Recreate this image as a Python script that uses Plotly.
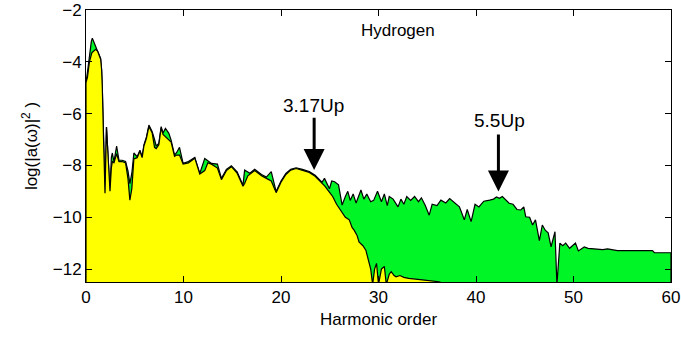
import plotly.graph_objects as go

# Green series (full spectrum, upper envelope)
green_x = [0.0, 0.0, 0.15, 0.35, 0.55, 0.65, 0.8, 1.0, 1.2, 1.5, 1.6, 1.67, 1.8, 1.95, 2.1, 2.25, 2.46, 2.6, 2.7,
           2.87, 3.14, 3.38, 3.7, 4.06, 4.3, 4.5, 4.7, 4.91, 5.25, 5.53, 5.76, 5.94, 6.2, 6.45, 6.79, 7.03, 7.2,
           7.47, 7.71, 7.9, 8.15, 8.5, 8.73, 9.08, 9.3, 9.59, 9.96, 10.5, 11.16, 11.67, 12.18, 12.87, 13.48,
           13.89, 14.4, 14.91, 15.5, 16.1, 16.27, 16.8, 17.3, 18.0, 18.5, 19.0, 19.5, 20.0, 20.5, 21.0, 21.55,
           22.2, 22.9, 23.5, 23.95, 24.2, 24.46, 24.97, 25.2, 25.5, 25.9, 26.27, 26.6, 26.85, 27.1, 27.4, 27.7,
           28.2, 28.5, 28.8, 29.2, 29.5, 29.9, 30.3, 30.6, 30.9, 31.1, 31.5, 32.0, 32.3, 32.6, 32.9, 33.3, 33.7,
           34.1, 34.4, 34.8, 35.2, 35.5, 36.0, 36.4, 36.9, 37.3, 37.8, 38.3, 38.8, 39.1, 39.5, 39.9, 40.3, 40.8,
           41.4, 41.8, 42.1, 42.4, 42.7, 43.0, 43.4, 43.8, 44.2, 44.6, 44.9, 45.1, 45.5, 45.8, 46.1, 46.5, 46.8,
           47.1, 47.4, 47.7, 48.1, 48.3, 48.6, 48.9, 49.2, 49.6, 50.2, 50.5, 51.1, 51.5, 52.3, 53.0, 53.5, 54.5,
           58.1, 58.3, 60.0, 60.0]
green_y = [-12.6, -4.8, -4.4, -3.7, -3.2, -3.09, -3.25, -3.42, -3.6, -3.87, -4.3, -4.96, -7.0, -9.07, -6.52, -7.4,
           -9.0, -7.7, -7.52, -7.85, -7.25, -7.79, -7.8, -7.85, -8.2, -8.7, -8.3, -7.52, -7.66, -7.41, -7.66, -7.21,
           -6.9, -6.44, -6.70, -7.0, -7.25, -7.15, -6.5, -6.75, -6.57, -6.76, -7.02, -7.6, -7.5, -7.3, -7.92,
           -7.85, -7.69, -8.31, -7.73, -7.92, -7.95, -8.5, -8.15, -8.01, -8.25, -8.76, -8.18, -8.3, -8.15, -8.35,
           -8.45, -8.24, -9.01, -8.6, -8.31, -8.15, -8.09, -8.15, -8.24, -8.38, -8.56, -8.65, -8.5, -8.9, -8.6,
           -8.63, -8.75, -9.53, -9.2, -9.0, -9.35, -9.1, -9.45, -8.95, -9.3, -9.1, -9.4, -9.35, -9.0, -9.4, -9.1,
           -9.55, -9.2, -9.3, -9.6, -9.3, -9.5, -9.2, -9.35, -9.2, -9.4, -9.25, -9.55, -9.92, -9.5, -9.55, -9.34,
           -9.45, -9.28, -9.45, -9.6, -10.1, -9.7, -10.17, -9.5, -9.6, -9.38, -9.34, -9.3, -9.22, -9.27, -9.2,
           -9.32, -9.46, -9.5, -9.7, -9.72, -9.6, -9.98, -10.0, -10.3, -10.1, -10.9, -10.3, -10.5, -10.6, -11.14,
           -10.56, -12.6, -11.0, -11.1, -11.0, -11.2, -11.0, -11.3, -11.15, -11.2, -11.24, -11.25, -11.22, -11.29,
           -11.29, -11.37, -11.37, -12.6]

# Yellow series (short trajectories only)
yellow_x = [0.0, 0.0, 0.15, 0.35, 0.6, 0.99, 1.2, 1.5, 1.6, 1.67, 1.8, 1.95, 2.1, 2.25, 2.46, 2.6, 2.7, 2.87, 3.14,
            3.38, 3.7, 4.06, 4.3, 4.5, 4.7, 4.91, 5.25, 5.53, 5.76, 5.94, 6.2, 6.45, 6.79, 7.03, 7.2, 7.47, 7.71,
            7.9, 8.15, 8.5, 8.73, 9.08, 9.3, 9.59, 9.96, 10.5, 11.16, 11.67, 12.18, 12.5, 12.87, 13.48, 13.89,
            14.4, 14.91, 15.5, 16.1, 16.27, 16.6, 17.3, 18.0, 18.5, 19.0, 19.5, 20.0, 20.5, 21.0, 21.55, 22.2,
            22.9, 23.5, 24.0, 24.5, 25.0, 25.3, 25.7, 26.17, 26.6, 27.0, 27.3, 27.5, 27.8, 28.0, 28.4, 28.7, 29.0,
            29.2, 29.4, 29.6, 29.8, 30.0, 30.3, 30.6, 30.8, 31.1, 31.3, 31.6, 31.8, 32.2, 32.6, 33.1, 34.5, 36.2,
            37.0, 37.0]
yellow_y = [-12.6, -4.8, -4.6, -4.0, -3.65, -3.52, -3.6, -3.9, -4.3, -4.96, -7.0, -9.07, -6.52, -7.4, -9.0, -8.1,
            -7.85, -7.9, -7.55, -7.85, -7.85, -7.9, -8.5, -9.34, -8.9, -7.75, -7.7, -7.45, -7.7, -7.25, -6.95,
            -6.5, -6.75, -7.3, -7.35, -7.2, -6.55, -6.8, -6.9, -7.0, -7.1, -7.65, -7.6, -7.6, -7.95, -7.9, -7.72,
            -8.33, -8.2, -7.9, -7.95, -8.1, -8.55, -8.2, -8.05, -8.3, -8.8, -8.7, -8.4, -8.2, -8.4, -8.5, -8.6,
            -9.05, -8.65, -8.35, -8.18, -8.12, -8.18, -8.27, -8.42, -8.6, -8.8, -9.05, -9.2, -9.5, -9.79, -10.0,
            -10.1, -10.4, -10.5, -10.7, -10.95, -11.1, -11.27, -11.65, -12.0, -12.6, -12.0, -11.78, -12.6, -12.0,
            -11.9, -12.6, -12.2, -12.1, -12.25, -12.3, -12.25, -12.32, -12.36, -12.42, -12.49, -12.6, -12.6]

x_ticks = [0, 10, 20, 30, 40, 50, 60]
y_ticks = [-12, -10, -8, -6, -4, -2]

FONT = "Liberation Sans, Arial, Helvetica, sans-serif"

fig = go.Figure()
fig.add_trace(go.Scatter(x=green_x, y=green_y, mode="lines", fill="toself", fillcolor="#00f526",
                         line=dict(color="black", width=1.2), hoverinfo="skip", showlegend=False))
fig.add_trace(go.Scatter(x=yellow_x, y=yellow_y, mode="lines", fill="toself", fillcolor="#ffff00",
                         line=dict(color="black", width=1.2), hoverinfo="skip", showlegend=False))

ann_font = dict(family=FONT, size=19, color="black")
fig.add_annotation(x=32.0, y=-2.8, text="Hydrogen", showarrow=False, font=dict(family=FONT, size=17, color="black"))
fig.add_annotation(x=23.3, y=-5.67, text="3.17Up", showarrow=False, font=ann_font)
fig.add_annotation(x=42.4, y=-6.25, text="5.5Up", showarrow=False, font=ann_font)
fig.add_annotation(x=23.4, y=-8.18, ax=23.4, ay=-6.1, axref="x", ayref="y", xref="x", yref="y", text="",
                   showarrow=True, arrowhead=2, arrowsize=1.4, arrowwidth=3, arrowcolor="black")
fig.add_annotation(x=42.3, y=-9.01, ax=42.3, ay=-6.75, axref="x", ayref="y", xref="x", yref="y", text="",
                   showarrow=True, arrowhead=2, arrowsize=1.4, arrowwidth=3, arrowcolor="black")

fig.update_xaxes(range=[0, 60], tickvals=x_ticks, ticks="inside", ticklen=6, mirror="ticks", showline=True,
                 linecolor="black", linewidth=1, tickcolor="black", showgrid=False, zeroline=False,
                 automargin=False,
                 title=dict(text="Harmonic order", font=dict(family=FONT, size=17), standoff=6),
                 tickfont=dict(family=FONT, size=17, color="black"))
fig.update_yaxes(range=[-12.5, -2], tickvals=y_ticks, ticks="inside", ticklen=6, mirror="ticks", showline=True,
                 linecolor="black", linewidth=1, tickcolor="black", showgrid=False, zeroline=False,
                 automargin=False,
                 title=dict(text="log(|a(ω)|<sup>2</sup> )", font=dict(family=FONT, size=17), standoff=10),
                 tickfont=dict(family=FONT, size=17, color="black"))

fig.update_layout(width=681, height=339, margin=dict(l=86, r=10, t=10, b=57), plot_bgcolor="white",
                  paper_bgcolor="white", font=dict(family=FONT, color="black"))

fig.write_html("out.html")
